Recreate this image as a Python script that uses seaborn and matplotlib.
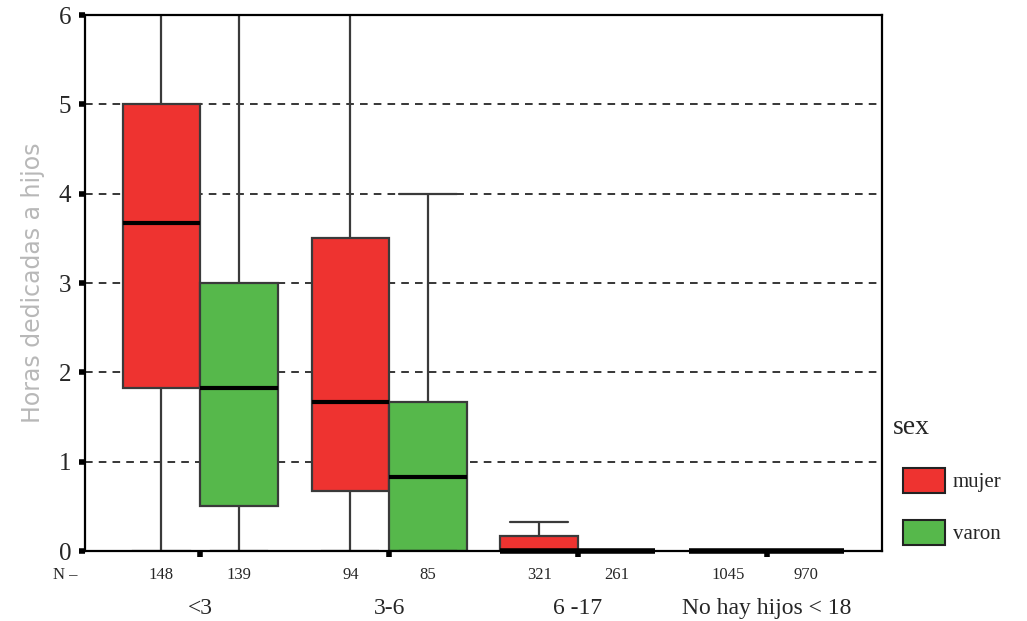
import matplotlib
matplotlib.use("Agg")
import matplotlib.pyplot as plt
import matplotlib.transforms as mtransforms
import seaborn as sns
import pandas as pd

# ---- data (five-number summaries) ----
groups = ["<3", "3-6", "6 -17", "No hay hijos < 18"]
sexes = ["mujer", "varon"]
# order: (<3 mujer, <3 varon, 3-6 mujer, 3-6 varon, 6-17 mujer, 6-17 varon, NH mujer, NH varon)
whisker_low = [0.0, 0.0, 0.0, 0.0, 0.0, 0.0, 0.0, 0.0]
q1 = [1.83, 0.5, 0.67, 0.0, 0.0, 0.0, 0.0, 0.0]
median = [3.67, 1.83, 1.67, 0.83, 0.0, 0.0, 0.0, 0.0]
q3 = [5.0, 3.0, 3.5, 1.67, 0.17, 0.0, 0.0, 0.0]
whisker_high = [7.0, 7.0, 7.0, 4.0, 0.33, 0.0, 0.0, 0.0]
n_counts = [148, 139, 94, 85, 321, 261, 1045, 970]

palette = ["#EE3330", "#56B84B"]

rows = []
i = 0
for g in groups:
    for s in sexes:
        for v in (whisker_low[i], q1[i], median[i], q3[i], whisker_high[i]):
            rows.append({"grupo": g, "sex": s, "horas": v})
        i += 1
df = pd.DataFrame(rows)

sns.set_theme(style="white")
plt.rcParams["font.family"] = ["Liberation Serif", "DejaVu Serif"]

fig = plt.figure(figsize=(10.27, 6.21), dpi=100)
ax = fig.add_axes([85 / 1027, 1 - 551 / 621, (882 - 85) / 1027, (551 - 15) / 621])

# dashed grid lines
for yv in [1, 2, 3, 4, 5]:
    ax.axhline(yv, color="black", lw=1.1, ls=(0, (5, 4)), zorder=0)

box_width = 0.82
sns.boxplot(data=df, x="grupo", y="horas", hue="sex", order=groups, hue_order=sexes,
            palette=palette, saturation=1, width=box_width, gap=0, whis=(0, 100),
            showfliers=False, linewidth=1.6, linecolor="#3a3a3a",
            medianprops=dict(color="black", linewidth=3.0),
            ax=ax, zorder=2)

# widen whisker caps a bit; keep medians at zero visible
half_box = box_width / 2
for ln in ax.lines:
    xd, yd = ln.get_xdata(), ln.get_ydata()
    if len(xd) == 2 and yd[0] == yd[1]:
        if ln.get_color() == "black":
            ln.set_clip_on(False)
            if yd[0] == 0:
                ln.set_linewidth(4.0)
            continue
        w = abs(xd[1] - xd[0])
        if 0 < w < half_box * 0.95:
            c = (xd[0] + xd[1]) / 2
            nw = half_box * 0.75
            ln.set_xdata([c - nw / 2, c + nw / 2])

ax.set_ylim(0, 6)
ax.set_xlim(-0.61, 3.61)
ax.set_yticks(range(0, 7))
ax.set_yticklabels([str(v) for v in range(0, 7)], fontsize=18)
ax.set_xticks(range(len(groups)))
ax.set_xticklabels(groups, fontsize=17)
ax.tick_params(axis="y", direction="out", length=4, width=4, color="black", pad=6, left=True)
ax.tick_params(axis="x", direction="out", length=4, width=4, color="black", pad=30, bottom=True)
ax.set_xlabel("")
ax.set_ylabel("Horas dedicadas a hijos", fontsize=17, color="#b8b8b8",
              family=["DejaVu Sans"], labelpad=10)

for sp in ax.spines.values():
    sp.set_visible(True)
    sp.set_color("black")
    sp.set_linewidth(1.6)

# N counts
trans = mtransforms.blended_transform_factory(ax.transData, ax.transAxes)
k = 0
for gi in range(len(groups)):
    for si in range(len(sexes)):
        xpos = gi + (si - 0.5) * box_width / 2
        ax.text(xpos, -0.045, str(n_counts[k]), transform=trans, ha="center", va="center",
                fontsize=12)
        k += 1
ax.text(-0.01, -0.045, "N –", transform=ax.transAxes, ha="right", va="center", fontsize=12)

# legend
fig.text(893 / 1027, 1 - 428 / 621, "sex", fontsize=20, ha="left", va="center")
leg = ax.legend(title=None, loc="upper left", bbox_to_anchor=(1.016, 0.17),
                frameon=False, fontsize=15,
                handlelength=2.0, handleheight=1.45, labelspacing=1.3,
                borderaxespad=0, handletextpad=0.4)
for p in leg.get_patches():
    p.set_edgecolor("#222222")
    p.set_linewidth(1.5)

fig.savefig("out.png", dpi=100)
